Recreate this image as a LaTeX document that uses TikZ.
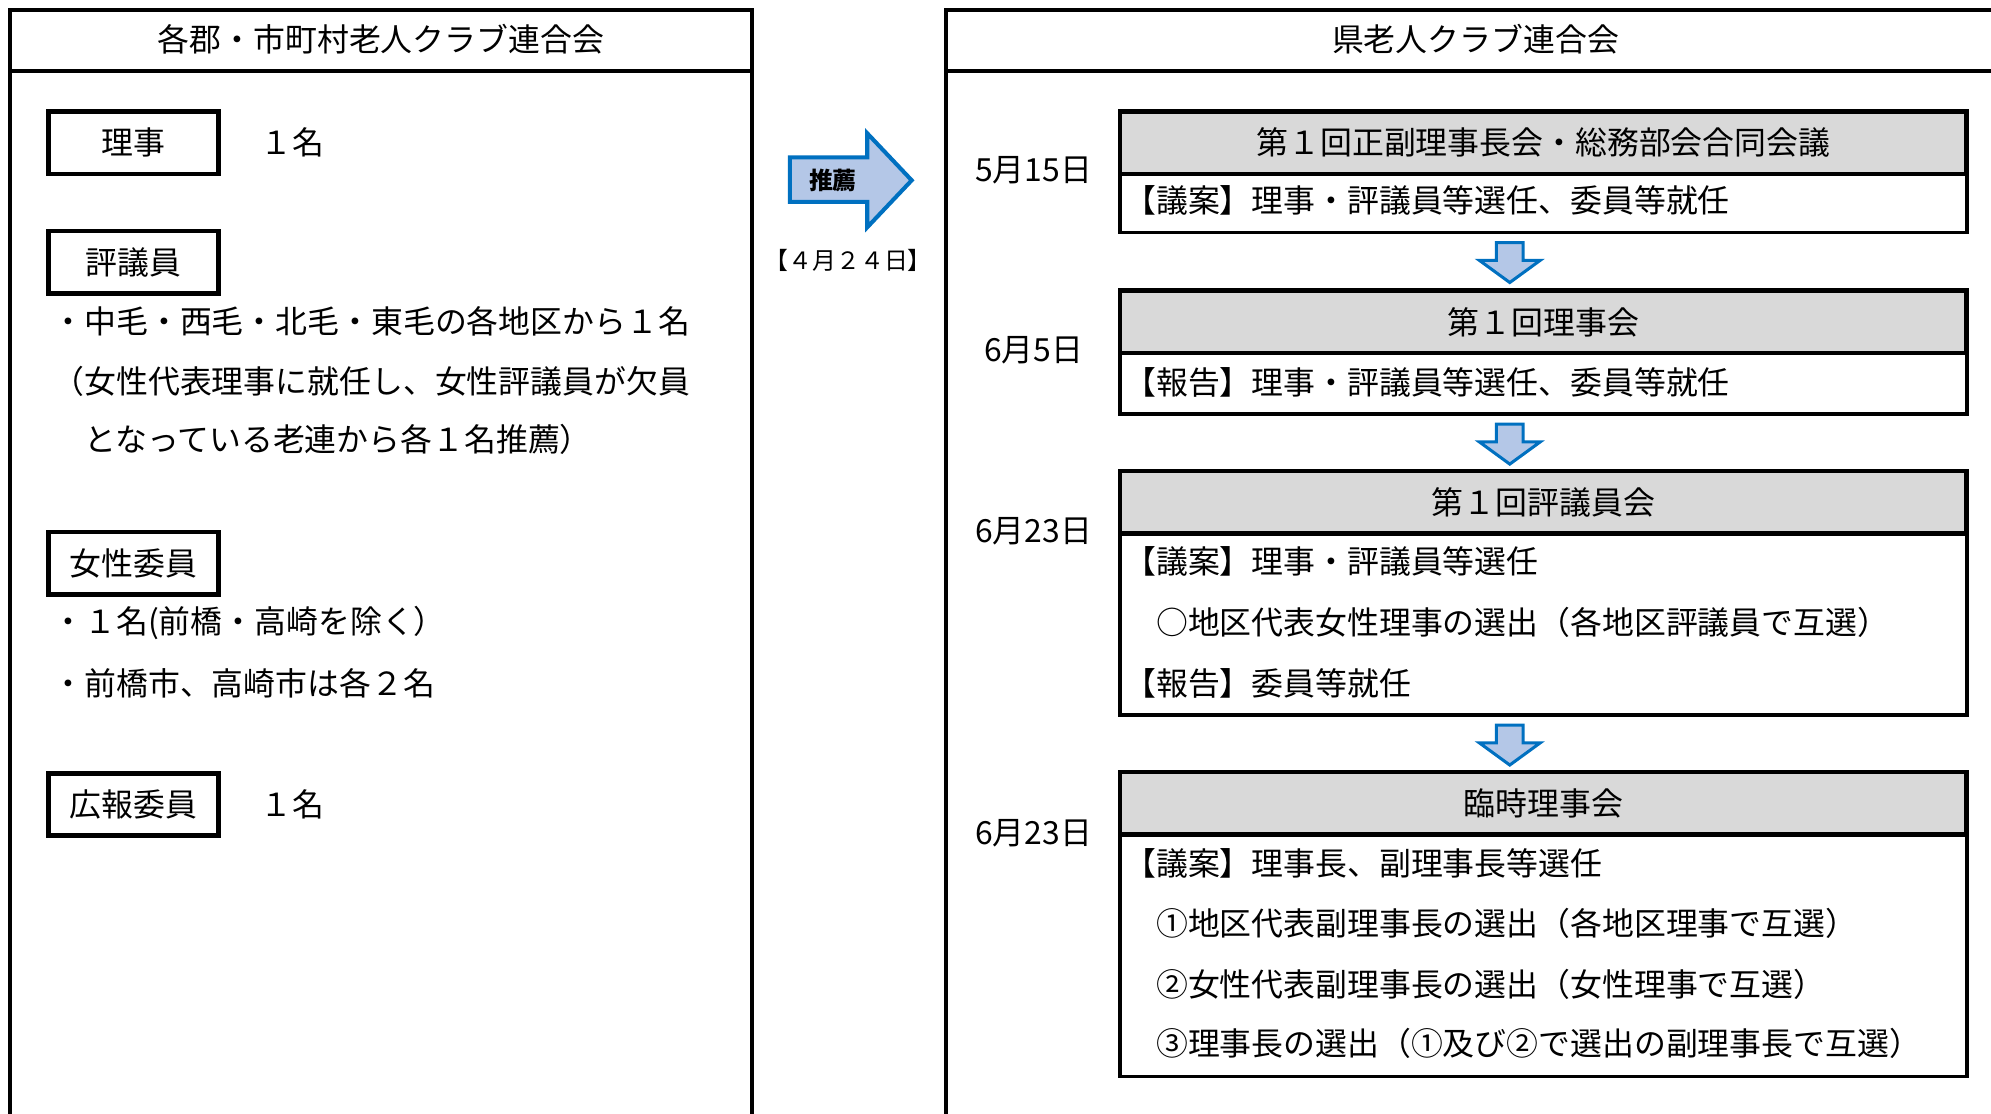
\documentclass[tikz,border=0pt]{standalone}
\usepackage{fontspec}
\setmainfont{Noto Sans CJK JP}
\usetikzlibrary{positioning,calc}

\definecolor{headgray}{RGB}{217,217,217}
\definecolor{arrowblue}{RGB}{0,112,192}
\definecolor{arrowfill}{RGB}{180,199,231}

\newcommand\bodysize{\fontsize{12.55}{15}\selectfont}
\newcommand\smallsize{\fontsize{9.4}{11}\selectfont}

\tikzset{
  panel/.style={line width=1.5pt},
  tagbox/.style={draw, line width=1.8pt, minimum width=67pt, minimum height=24.5pt, inner sep=0pt, outer sep=0pt},
  meethead/.style={draw, line width=1.9pt, fill=headgray, minimum width=333.5pt, minimum height=24.5pt, inner sep=0pt, outer sep=0pt},
  meetbody/.style={draw, line width=1.3pt, minimum width=333.5pt, inner sep=0pt, outer sep=0pt},
  txt/.style={inner sep=0pt, anchor=west},
  flowarrow/.style={draw=arrowblue, fill=arrowfill, line width=1.2pt, line join=miter},
}

\begin{document}
\begin{tikzpicture}[x=0.5pt, y=-0.5pt, font=\bodysize]
\useasboundingbox (0,0) rectangle (1568,877);

%% the two panels (open at the bottom)
\draw[panel] (8,890) -- (8,8) -- (592,8) -- (592,890);
\draw[panel] (8,56) -- (592,56);
\draw[panel] (745,890) -- (745,8) -- (1590,8);
\draw[panel] (745,56) -- (1590,56);
\node (lefttitle) at (300,31) {各郡・市町村老人クラブ連合会};
\node (righttitle) at (1162,31) {県老人クラブ連合会};

%% left panel: posts to fill
\node[tagbox] (riji) at (105,112.5) {理事};
\node[txt, right=16.5pt of riji] (rijinum) {１名};

\node[tagbox] (hyogi) at (105,206.5) {評議員};
\node[txt] (hyogi1) at (41,253) {・中毛・西毛・北毛・東毛の各地区から１名};
\node[txt] (hyogi2) at (41,300) {（女性代表理事に就任し、女性評議員が欠員};
\node[txt] (hyogi3) at (41,346) {　となっている老連から各１名推薦）};

\node[tagbox] (josei) at (105,443.5) {女性委員};
\node[txt] (josei1) at (41,491) {・１名(前橋・高崎を除く）};
\node[txt] (josei2) at (41,538) {・前橋市、高崎市は各２名};

\node[tagbox] (koho) at (105,633.5) {広報委員};
\node[txt, right=16.5pt of koho] (kohonum) {１名};

%% recommendation arrow
\draw[flowarrow, line width=1.6pt] (622,124) -- (683,124) -- (683,105) -- (718,142)
  -- (683,179) -- (683,159) -- (622,159) -- cycle;
\node[font=\smallsize\bfseries] (suisen) at (656,142) {推薦};
\node[font=\smallsize] (suisendate) at (668,205) {【４月２４日】};

%% right panel: meetings (body first, head on top)
\node[meetbody, minimum height=23pt, anchor=north] (b1) at (1215.5,137) {};
\node[meethead, above=0pt of b1] (h1) {第１回正副理事長会・総務部会合同会議};
\node[txt] (b1l1) at (885,158) {【議案】理事・評議員等選任、委員等就任};

\node[meetbody, minimum height=24pt, anchor=north] (b2) at (1215.5,278) {};
\node[meethead, above=0pt of b2] (h2) {第１回理事会};
\node[txt] (b2l1) at (885,301) {【報告】理事・評議員等選任、委員等就任};

\node[meetbody, minimum height=71.5pt, anchor=north] (b3) at (1215.5,420) {};
\node[meethead, above=0pt of b3] (h3) {第１回評議員会};
\node[txt] (b3l1) at (885,442) {【議案】理事・評議員等選任};
\node[txt] (b3l2) at (885,490) {　○地区代表女性理事の選出（各地区評議員で互選）};
\node[txt] (b3l3) at (885,538) {【報告】委員等就任};

\node[meetbody, minimum height=95.5pt, anchor=north] (b4) at (1215.5,657) {};
\node[meethead, above=0pt of b4] (h4) {臨時理事会};
\node[txt] (b4l1) at (885,680) {【議案】理事長、副理事長等選任};
\node[txt] (b4l2) at (885,727) {　①地区代表副理事長の選出（各地区理事で互選）};
\node[txt] (b4l3) at (885,775) {　②女性代表副理事長の選出（女性理事で互選）};
\node[txt] (b4l4) at (885,822) {　③理事長の選出（①及び②で選出の副理事長で互選）};

% dates
\node (d1) at (814,134) {5月15日};
\node (d2) at (814,276) {6月5日};
\node (d3) at (814,418) {6月23日};
\node (d4) at (814,656) {6月23日};

% arrows between meetings
\coordinate (axis) at (1189,0);
\foreach \b in {b1,b2,b3}
  \draw[flowarrow] (\b.south -| axis) ++(-10.5,8) -- ++(21,0) -- ++(0,14) -- ++(13.5,0)
    -- ++(-24,17.5) -- ++(-24,-17.5) -- ++(13.5,0) -- cycle;

\end{tikzpicture}
\end{document}
